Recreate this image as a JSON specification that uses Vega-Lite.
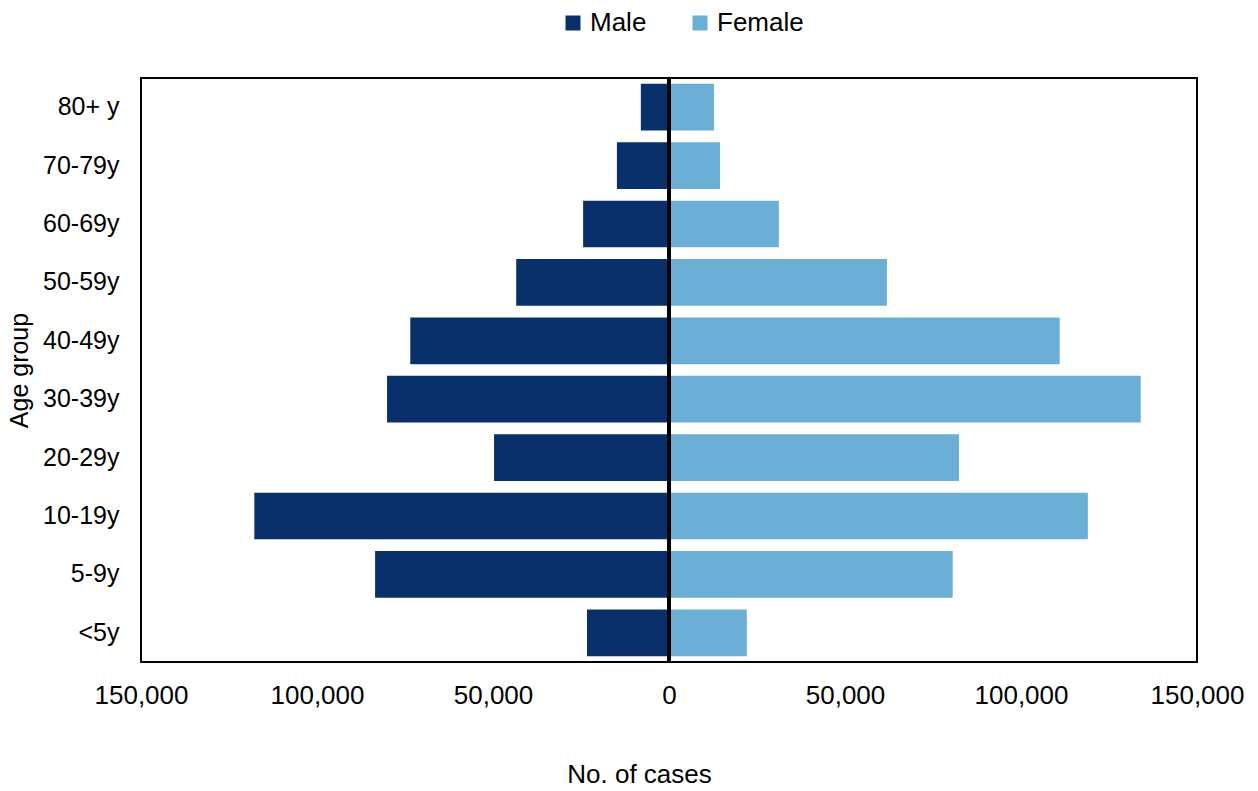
{
  "$schema": "https://vega.github.io/schema/vega-lite/v6.json",
  "width": 1056,
  "height": 584,
  "autosize": {"type": "none"},
  "padding": {"left": 141, "top": 78, "right": 61, "bottom": 129},
  "background": "white",
  "config": {
    "font": "Liberation Sans",
    "view": {"stroke": "black", "strokeWidth": 2},
    "axis": {"grid": false, "ticks": false, "domain": false, "labelFont": "Liberation Sans", "titleFont": "Liberation Sans", "labelFontSize": 25, "titleFontSize": 25, "labelColor": "black", "titleColor": "black", "titleFontWeight": "normal"}
  },
  "data": {
    "values": [
      {"age": "80+ y", "sex": "Male", "cases": -8000},
      {"age": "70-79y", "sex": "Male", "cases": -14800},
      {"age": "60-69y", "sex": "Male", "cases": -24400},
      {"age": "50-59y", "sex": "Male", "cases": -43400},
      {"age": "40-49y", "sex": "Male", "cases": -73500},
      {"age": "30-39y", "sex": "Male", "cases": -80100},
      {"age": "20-29y", "sex": "Male", "cases": -49700},
      {"age": "10-19y", "sex": "Male", "cases": -117800},
      {"age": "5-9y", "sex": "Male", "cases": -83500},
      {"age": "<5y", "sex": "Male", "cases": -23300},
      {"age": "80+ y", "sex": "Female", "cases": 12800},
      {"age": "70-79y", "sex": "Female", "cases": 14500},
      {"age": "60-69y", "sex": "Female", "cases": 31200},
      {"age": "50-59y", "sex": "Female", "cases": 61900},
      {"age": "40-49y", "sex": "Female", "cases": 111000},
      {"age": "30-39y", "sex": "Female", "cases": 134000},
      {"age": "20-29y", "sex": "Female", "cases": 82400},
      {"age": "10-19y", "sex": "Female", "cases": 119000},
      {"age": "5-9y", "sex": "Female", "cases": 80600},
      {"age": "<5y", "sex": "Female", "cases": 22100}
    ]
  },
  "layer": [
    {
      "mark": {"type": "bar"},
      "encoding": {
        "y": {
          "field": "age", "type": "nominal",
          "sort": ["80+ y", "70-79y", "60-69y", "50-59y", "40-49y", "30-39y", "20-29y", "10-19y", "5-9y", "<5y"],
          "scale": {"paddingInner": 0.2, "paddingOuter": 0.1},
          "axis": {"title": "Age group", "labelPadding": 22, "titlePadding": 10}
        },
        "x": {
          "field": "cases", "type": "quantitative",
          "scale": {"domain": [-150000, 150000], "nice": false},
          "axis": {"title": "No. of cases", "titleFontSize": 26, "labelFontSize": 26, "titleX": 498, "titleAlign": "center", "values": [-150000, -100000, -50000, 0, 50000, 100000, 150000], "labelExpr": "format(abs(datum.value), ',')", "labelPadding": 20, "titlePadding": 53, "labelFlush": false}
        },
        "color": {
          "field": "sex", "type": "nominal",
          "scale": {"domain": ["Male", "Female"], "range": ["#08306b", "#6baed6"]},
          "legend": {"title": null, "orient": "none", "legendX": 419, "legendY": -68, "direction": "horizontal", "symbolType": "square", "symbolSize": 225, "symbolStrokeWidth": 0, "labelFontSize": 26, "labelFont": "Liberation Sans", "labelColor": "black", "columnPadding": 40, "labelOffset": 4}
        }
      }
    },
    {
      "mark": {"type": "rule", "color": "black", "strokeWidth": 3},
      "encoding": {"x": {"datum": 0}}
    }
  ]
}
